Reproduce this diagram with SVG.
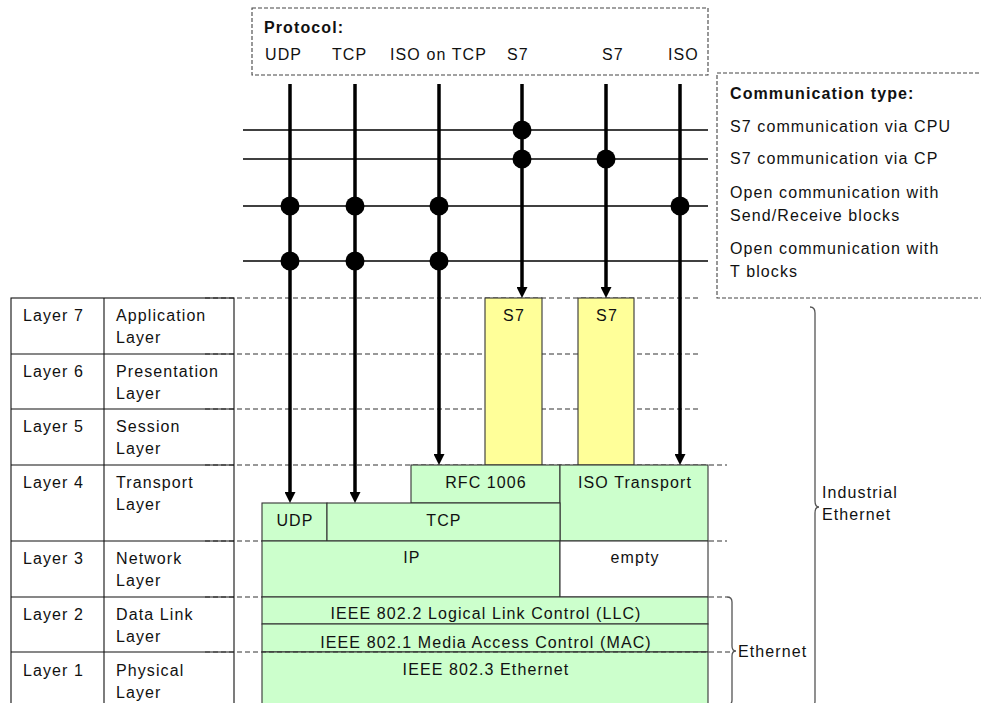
<svg xmlns="http://www.w3.org/2000/svg" width="981" height="703" viewBox="0 0 981 703">
<style>
.t{font-family:"Liberation Sans",Arial,sans-serif;font-size:16px;letter-spacing:1.1px;fill:#111}
.b{font-weight:bold}
.c{text-anchor:middle}
.dl{stroke:#333;stroke-width:1.2;stroke-dasharray:5 3;fill:none}
.db{stroke:#444;stroke-width:1.1;stroke-dasharray:4 2;fill:none}
.box{stroke:#333;stroke-width:1.1}
.g{fill:#ccffcc}
.y{fill:#ffff99}
.w{fill:#ffffff}
.tab{stroke:#111;stroke-width:1.1;fill:none}
.v{stroke:#000;stroke-width:3.5;fill:none}
.h{stroke:#000;stroke-width:1.3;fill:none}
.brace{stroke:#555;stroke-width:1.3;fill:none}
</style>
<defs>
<marker id="ah" markerUnits="userSpaceOnUse" markerWidth="12" markerHeight="11" viewBox="0 0 12 11" refX="3" refY="5.5" orient="auto"><path d="M0,0 L11,5.5 L0,11 Z" fill="#000"/></marker>
</defs>
<rect width="981" height="703" fill="#fff"/>

<g id="layer-guides">
<line class="dl" x1="205" y1="298" x2="700" y2="298"/>
<line class="dl" x1="205" y1="354" x2="700" y2="354"/>
<line class="dl" x1="205" y1="409" x2="700" y2="409"/>
<line class="dl" x1="205" y1="465" x2="727" y2="465"/>
<line class="dl" x1="205" y1="541" x2="727" y2="541"/>
<line class="dl" x1="205" y1="597" x2="727" y2="597"/>
</g>

<g id="protocol-legend">
<rect class="db" x="252" y="8" width="456" height="67"/>
<text class="t b" x="264" y="33">Protocol:</text>
<text class="t" x="265" y="60">UDP</text>
<text class="t" x="332" y="60">TCP</text>
<text class="t" x="390" y="60">ISO on TCP</text>
<text class="t" x="507" y="60">S7</text>
<text class="t" x="602" y="60">S7</text>
<text class="t" x="668" y="60">ISO</text>
</g>

<g id="comm-legend">
<path class="db" d="M985,73 H717 V298 H985"/>
<text class="t b" x="730" y="99">Communication type:</text>
<text class="t" x="730" y="132">S7 communication via CPU</text>
<text class="t" x="730" y="164">S7 communication via CP</text>
<text class="t" x="730" y="198">Open communication with</text>
<text class="t" x="730" y="221">Send/Receive blocks</text>
<text class="t" x="730" y="254">Open communication with</text>
<text class="t" x="730" y="277">T blocks</text>
</g>

<g id="layer-table">
<rect class="tab" x="11" y="298" width="223" height="412"/>
<line class="tab" x1="104" y1="298" x2="104" y2="710"/>
<line class="tab" x1="11" y1="354" x2="234" y2="354"/>
<line class="tab" x1="11" y1="409" x2="234" y2="409"/>
<line class="tab" x1="11" y1="465" x2="234" y2="465"/>
<line class="tab" x1="11" y1="541" x2="234" y2="541"/>
<line class="tab" x1="11" y1="597" x2="234" y2="597"/>
<line class="tab" x1="11" y1="652" x2="234" y2="652"/>
<text class="t" x="23" y="321">Layer 7</text><text class="t" x="116" y="321">Application</text><text class="t" x="116" y="343">Layer</text>
<text class="t" x="23" y="377">Layer 6</text><text class="t" x="116" y="377">Presentation</text><text class="t" x="116" y="399">Layer</text>
<text class="t" x="23" y="432">Layer 5</text><text class="t" x="116" y="432">Session</text><text class="t" x="116" y="454">Layer</text>
<text class="t" x="23" y="488">Layer 4</text><text class="t" x="116" y="488">Transport</text><text class="t" x="116" y="510">Layer</text>
<text class="t" x="23" y="564">Layer 3</text><text class="t" x="116" y="564">Network</text><text class="t" x="116" y="586">Layer</text>
<text class="t" x="23" y="620">Layer 2</text><text class="t" x="116" y="620">Data Link</text><text class="t" x="116" y="642">Layer</text>
<text class="t" x="23" y="676">Layer 1</text><text class="t" x="116" y="676">Physical</text><text class="t" x="116" y="698">Layer</text>
</g>

<g id="s7-cpu"><rect class="box y" x="485" y="298" width="57" height="167"/><text class="t c" x="514" y="321">S7</text></g>
<g id="s7-cp"><rect class="box y" x="578" y="298" width="56" height="167"/><text class="t c" x="607" y="321">S7</text></g>
<g id="rfc1006"><rect class="box g" x="411" y="465" width="149" height="38"/><text class="t c" x="486" y="488">RFC 1006</text></g>
<g id="iso-transport"><rect class="box g" x="560" y="465" width="148" height="76"/><text class="t c" x="635" y="488">ISO Transport</text></g>
<g id="udp"><rect class="box g" x="262" y="503" width="65" height="38"/><text class="t c" x="295" y="526">UDP</text></g>
<g id="tcp"><rect class="box g" x="327" y="503" width="233" height="38"/><text class="t c" x="444" y="526">TCP</text></g>
<g id="ip"><rect class="box g" x="262" y="541" width="298" height="56"/><text class="t c" x="412" y="563">IP</text></g>
<g id="empty"><rect class="box w" x="560" y="541" width="148" height="56"/><text class="t c" x="635" y="563">empty</text></g>
<g id="llc"><rect class="box g" x="262" y="597" width="446" height="27"/><text class="t c" x="486" y="619">IEEE 802.2 Logical Link Control (LLC)</text></g>
<g id="mac"><rect class="box g" x="262" y="624" width="446" height="28"/><text class="t c" x="486" y="648">IEEE 802.1 Media Access Control (MAC)</text></g>
<g id="ethernet-8023"><rect class="box g" x="262" y="652" width="446" height="60"/><text class="t c" x="486" y="675">IEEE 802.3 Ethernet</text></g>

<line class="dl" x1="205" y1="652" x2="732" y2="652"/>

<g id="connectors">
<line class="h" x1="243" y1="130" x2="708" y2="130"/>
<line class="h" x1="243" y1="159" x2="708" y2="159"/>
<line class="h" x1="243" y1="206" x2="708" y2="206"/>
<line class="h" x1="243" y1="261" x2="708" y2="261"/>
<line class="v" x1="290" y1="84" x2="290" y2="495" marker-end="url(#ah)"/>
<line class="v" x1="355" y1="84" x2="355" y2="495" marker-end="url(#ah)"/>
<line class="v" x1="439" y1="84" x2="439" y2="457" marker-end="url(#ah)"/>
<line class="v" x1="522" y1="84" x2="522" y2="290" marker-end="url(#ah)"/>
<line class="v" x1="606" y1="84" x2="606" y2="290" marker-end="url(#ah)"/>
<line class="v" x1="680" y1="84" x2="680" y2="457" marker-end="url(#ah)"/>
<g fill="#000">
<circle cx="522" cy="130" r="9.5"/>
<circle cx="522" cy="159" r="9.5"/>
<circle cx="606" cy="159" r="9.5"/>
<circle cx="290" cy="206" r="9.5"/>
<circle cx="355" cy="206" r="9.5"/>
<circle cx="439" cy="206" r="9.5"/>
<circle cx="680" cy="206" r="9.5"/>
<circle cx="290" cy="261" r="9.5"/>
<circle cx="355" cy="261" r="9.5"/>
<circle cx="439" cy="261" r="9.5"/>
</g>
</g>

<g id="industrial-ethernet-brace">
<path class="brace" d="M810,307 Q815,307 815,313 L815,501 Q815,507 819,507 Q815,507 815,513 L815,701 Q815,707 810,707"/>
<text class="t" x="822" y="498">Industrial</text>
<text class="t" x="822" y="520">Ethernet</text>
</g>
<g id="ethernet-brace">
<path class="brace" d="M727,597 Q732,597 732,602 L732,646 Q732,651 736,651 Q732,651 732,656 L732,700 Q732,705 727,705"/>
<text class="t" x="738" y="657">Ethernet</text>
</g>
</svg>
